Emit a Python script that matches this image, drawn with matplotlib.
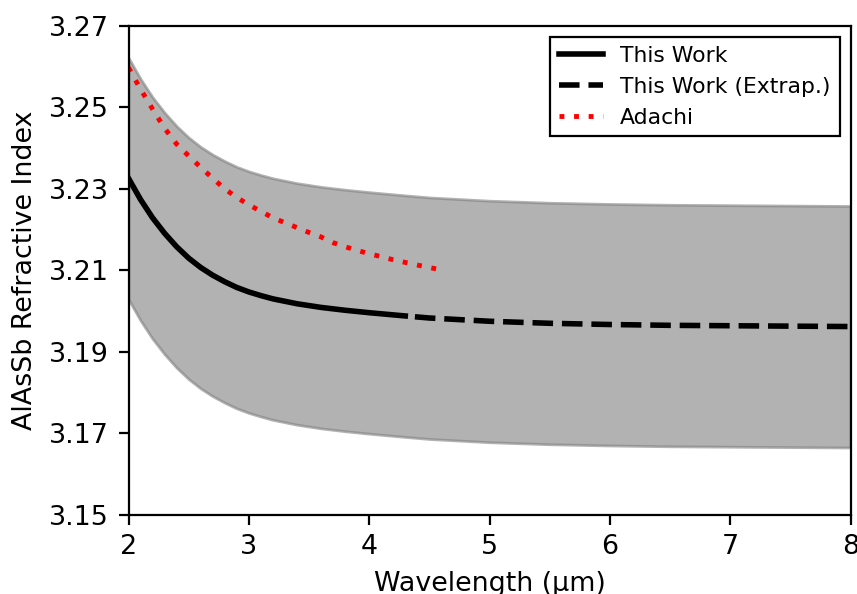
import numpy as np
import matplotlib
matplotlib.use("Agg")
import matplotlib.pyplot as plt

# AlAsSb refractive index vs wavelength (um) - measured range
wl_fit = [2.0, 2.1, 2.2, 2.3, 2.4, 2.5, 2.6, 2.7, 2.8, 2.9, 3.0, 3.1, 3.2,
          3.4, 3.6, 3.8, 4.0, 4.15, 4.3]
n_fit = [3.2326, 3.2274, 3.2229, 3.2191, 3.2158, 3.2130, 3.2107, 3.2088,
         3.2072, 3.2058, 3.2047, 3.2038, 3.2030, 3.2018, 3.2009, 3.2002,
         3.1996, 3.1992, 3.1988]

# extrapolated range
wl_ext = [4.38, 4.5, 4.75, 5.0, 5.5, 6.0, 6.5, 7.0, 7.5, 8.0]
n_ext = [3.1986, 3.1983, 3.1979, 3.1975, 3.1970, 3.1967, 3.1965, 3.1964,
         3.1963, 3.1962]

# uncertainty band over both ranges
wl_band = wl_fit + wl_ext
n_upper = [3.2622, 3.2570, 3.2525, 3.2487, 3.2454, 3.2426, 3.2403, 3.2384,
           3.2368, 3.2354, 3.2343, 3.2334, 3.2326, 3.2314, 3.2305, 3.2298,
           3.2292, 3.2288, 3.2284, 3.2282, 3.2279, 3.2275, 3.2271, 3.2266,
           3.2263, 3.2261, 3.2260, 3.2259, 3.2258]
n_lower = [3.2029, 3.1977, 3.1932, 3.1894, 3.1861, 3.1833, 3.1810, 3.1791,
           3.1775, 3.1761, 3.1750, 3.1741, 3.1733, 3.1721, 3.1712, 3.1705,
           3.1699, 3.1695, 3.1691, 3.1689, 3.1686, 3.1682, 3.1678, 3.1673,
           3.1670, 3.1668, 3.1667, 3.1666, 3.1665]

# Adachi model
wl_adachi = [2.0, 2.1, 2.2, 2.3, 2.4, 2.5, 2.6, 2.7, 2.8, 2.9, 3.0, 3.1,
             3.2, 3.3, 3.4, 3.5, 3.6, 3.7, 3.8, 3.9, 4.0, 4.2, 4.4, 4.6]
n_adachi = [3.2598, 3.2545, 3.2496, 3.2449, 3.2410, 3.2381, 3.2353, 3.2326,
            3.2300, 3.2279, 3.2261, 3.2245, 3.2229, 3.2217, 3.2205, 3.2193,
            3.2182, 3.2168, 3.2158, 3.2149, 3.2141, 3.2126, 3.2113, 3.2101]

fig = plt.figure(figsize=(857 / 200, 594 / 200), dpi=200)
ax = fig.add_axes([128.5 / 857, 1 - 514.7 / 594, 722 / 857, 488.7 / 594])

ax.fill_between(wl_band, n_lower, n_upper, color="gray", alpha=0.6)
ax.plot(wl_fit, n_fit, color="black", lw=2, label="This Work")
ax.plot(wl_ext, n_ext, color="black", lw=2, ls="--", label="This Work (Extrap.)")
ax.plot(wl_adachi, n_adachi, color="red", lw=1.75, ls=(0, (1, 2.0)), label="Adachi")

yticks = np.arange(3.15, 3.2701, 0.02)
ax.set_xlim(2, 8)
ax.set_ylim(3.15, 3.27)
ax.set_xticks(np.arange(2, 9, 1))
ax.set_yticks(yticks)
ax.set_yticklabels([f"{v:.2f}" for v in yticks])
ax.tick_params(labelsize=9.7)
ax.set_xlabel("Wavelength (µm)", fontsize=9.7)
ax.set_ylabel("AlAsSb Refractive Index", fontsize=9.7)

leg = ax.legend(loc="upper right", fontsize=7.9, fancybox=False, edgecolor="black", framealpha=1)
leg.get_frame().set_linewidth(0.8)

fig.savefig("out.png", dpi=200)
